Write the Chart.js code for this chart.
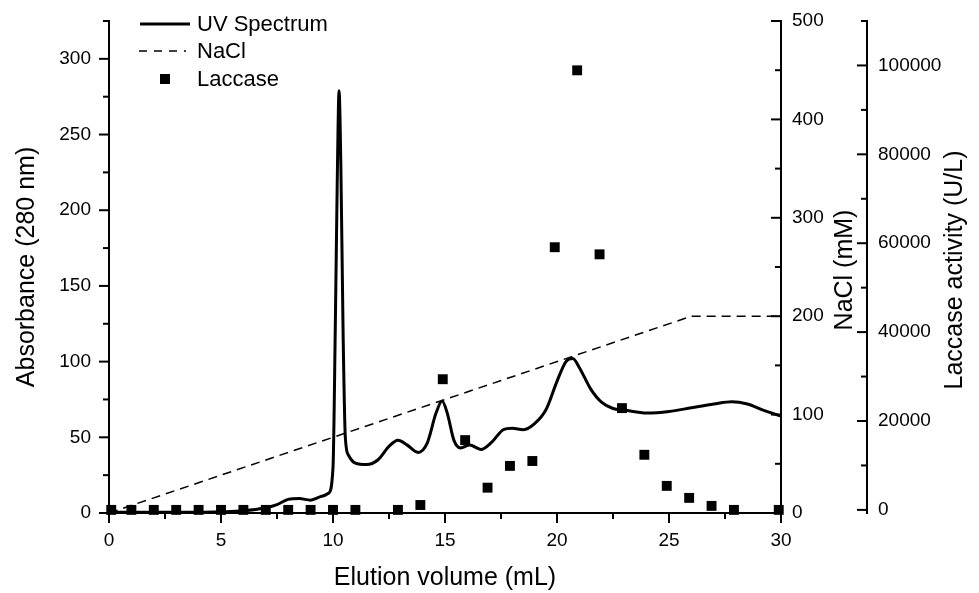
<!DOCTYPE html>
<html lang="en">
<head>
<meta charset="UTF-8">
<title>Elution profile</title>
<script src="https://cdn.jsdelivr.net/npm/chart.js"></script>
<style>
  html, body { margin: 0; padding: 0; background: #fff; }
</style>
</head>
<body>
<canvas id="elution" width="979" height="593"></canvas>
<script>
// UV trace: elution volume (mL) vs absorbance at 280 nm
const uvVolume = [0, 1, 2, 3, 4, 5, 6, 7, 7.5, 8, 8.5, 9, 9.5, 9.8, 10.0, 10.1, 10.2, 10.27, 10.35, 10.45, 10.55, 10.7,
  11, 11.5, 12, 12.5, 12.9, 13.3, 13.8, 14.2, 14.6, 14.87, 15.1, 15.4, 15.7, 16.1, 16.6, 17.1, 17.6, 18.0, 18.5,
  19.0, 19.5, 20.0, 20.4, 20.7, 21.0, 21.5, 22.0, 22.5, 23.0, 24.0, 25.0, 26.0, 27.0, 27.8, 28.5, 29.2, 30];
const uvAbs = [0.5, 0.5, 0.5, 0.5, 0.5, 0.8, 1.5, 3.5, 5.5, 9, 9.5, 8.5, 11, 13, 30, 120, 230, 279, 230, 120, 50, 38,
  33, 32, 35, 44, 48, 45, 40, 46, 66, 74, 66, 48, 43, 45, 42, 47, 55, 56, 55,
  59, 68, 87, 100, 102, 96, 82, 73, 69, 68, 66, 67, 69.5, 72, 73.5, 72, 68, 64];

// NaCl gradient (mM)
const naclVolume = [0, 26, 30];
const naclConc = [0, 200, 200];

// laccase activity of fractions (U/L)
const lacVolume = [0.1, 1, 2, 3, 4, 5, 6, 7, 8, 9, 10, 11, 12.9, 13.9, 14.9, 15.9, 16.9, 17.9, 18.9, 19.9,
  20.9, 21.9, 22.9, 23.9, 24.9, 25.9, 26.9, 27.9, 29.9];
const lacActivity = [0, 0, 0, 0, 0, 0, 0, 0, 0, 0, 0, 0, 0, 1100, 29400, 15700, 5000, 9900, 11000, 59100,
  98900, 57500, 22900, 12400, 5400, 2700, 900, 0, 0];

// axis ticks
const xTicks = [0, 5, 10, 15, 20, 25, 30];
const xMinor = [2.5, 7.5, 12.5, 17.5, 22.5, 27.5];
const absTicks = [0, 50, 100, 150, 200, 250, 300];
const absMinor = [25, 75, 125, 175, 225, 275, 325];
const naclTicks = [0, 100, 200, 300, 400, 500];
const naclMinor = [50, 150, 250, 350, 450];
const lacTicks = [0, 20000, 40000, 60000, 80000, 100000];
const lacMinor = [10000, 30000, 50000, 70000, 90000, 110000];

const FONT = '"Liberation Sans", Arial, Helvetica, sans-serif';

function setTicks(list) {
  return scale => { scale.ticks = list.map(v => ({ value: v })); };
}

// fixed axis box size, no extra room for overhanging labels
function fixSize(w, h) {
  return s => {
    if (w) s.width = w;
    if (h) s.height = h;
    s.paddingTop = s.paddingBottom = s.paddingLeft = s.paddingRight = 0;
  };
}

// ticks, right-hand titles and legend drawn on top of the chart
const axisDecor = {
  id: 'axisDecor',
  afterDraw(chart) {
    const { ctx, chartArea, scales } = chart;
    ctx.save();
    ctx.strokeStyle = '#000';
    ctx.lineWidth = 2;
    const seg = (x1, y1, x2, y2) => {
      ctx.beginPath(); ctx.moveTo(x1, y1); ctx.lineTo(x2, y2); ctx.stroke();
    };
    xTicks.forEach(v => { const p = scales.x.getPixelForValue(v); seg(p, chartArea.bottom, p, chartArea.bottom + 10); });
    xMinor.forEach(v => { const p = scales.x.getPixelForValue(v); seg(p, chartArea.bottom, p, chartArea.bottom + 6); });
    absTicks.forEach(v => { const p = scales.y.getPixelForValue(v); seg(chartArea.left - 10, p, chartArea.left, p); });
    absMinor.forEach(v => { const p = scales.y.getPixelForValue(v); seg(chartArea.left - 6, p, chartArea.left, p); });
    naclTicks.forEach(v => { const p = scales.y1.getPixelForValue(v); seg(scales.y1.left - 10, p, scales.y1.left, p); });
    naclMinor.forEach(v => { const p = scales.y1.getPixelForValue(v); seg(scales.y1.left - 6, p, scales.y1.left, p); });
    lacTicks.forEach(v => { const p = scales.y2.getPixelForValue(v); seg(scales.y2.left - 10, p, scales.y2.left, p); });
    lacMinor.forEach(v => { const p = scales.y2.getPixelForValue(v); seg(scales.y2.left - 6, p, scales.y2.left, p); });

    // right axis titles, reading upwards like the left one
    ctx.fillStyle = '#000';
    ctx.font = '25px ' + FONT;
    ctx.textAlign = 'center';
    ctx.textBaseline = 'middle';
    [['NaCl (mM)', scales.y1.left + 64], ['Laccase activity (U/L)', scales.y2.left + 88]].forEach(([txt, x]) => {
      ctx.save();
      ctx.translate(x, 270);
      ctx.rotate(-Math.PI / 2);
      ctx.fillText(txt, 0, 0);
      ctx.restore();
    });

    // legend
    const ds = chart.data.datasets;
    ctx.font = '22px ' + FONT;
    ctx.textAlign = 'left';
    ctx.lineWidth = ds[0].borderWidth;
    seg(140, 24, 190, 24);
    ctx.fillText(ds[0].label, 197, 25);
    ctx.lineWidth = ds[1].borderWidth;
    ctx.setLineDash([8, 7]);
    seg(139, 51, 186, 51);
    ctx.setLineDash([]);
    ctx.fillText(ds[1].label, 197, 52);
    ctx.fillRect(160, 74, 10, 10);
    ctx.fillText(ds[2].label, 197, 80);
    ctx.restore();
  }
};

const plainNumber = v => String(v);

const ctx = document.getElementById('elution').getContext('2d');
const elutionChart = new Chart(ctx, {
  type: 'line',
  data: {
    datasets: [{
      label: 'UV Spectrum',
      data: uvVolume.map((v, i) => ({ x: v, y: uvAbs[i] })),
      borderColor: '#000',
      borderWidth: 3,
      pointRadius: 0,
      cubicInterpolationMode: 'monotone',
      yAxisID: 'y'
    }, {
      label: 'NaCl',
      data: naclVolume.map((v, i) => ({ x: v, y: naclConc[i] })),
      borderColor: '#000',
      borderWidth: 1.5,
      borderDash: [9, 6],
      pointRadius: 0,
      tension: 0,
      yAxisID: 'y1'
    }, {
      label: 'Laccase',
      data: lacVolume.map((v, i) => ({ x: v, y: lacActivity[i] })),
      showLine: false,
      pointStyle: 'rect',
      pointRadius: 7,
      pointBorderWidth: 0,
      backgroundColor: '#000',
      borderColor: '#000',
      clip: false,
      yAxisID: 'y2'
    }]
  },
  options: {
    responsive: false,
    animation: false,
    layout: { padding: { top: 21, left: 0, right: 0, bottom: 0 } },
    plugins: { legend: { display: false }, tooltip: { enabled: false } },
    scales: {
      x: {
        type: 'linear',
        min: 0, max: 30,
        afterBuildTicks: setTicks(xTicks),
        afterFit: fixSize(0, 80),
        grid: { display: false, drawTicks: false },
        border: { display: true, color: '#000', width: 2 },
        ticks: { color: '#000', padding: 16, callback: plainNumber, font: { size: 19, family: FONT } },
        title: { display: true, text: 'Elution volume (mL)', color: '#000', padding: { top: 0, bottom: 0 }, font: { size: 25, family: FONT } }
      },
      y: {
        position: 'left',
        min: 0, max: 325,
        afterBuildTicks: setTicks(absTicks),
        afterFit: fixSize(109, 0),
        grid: { display: false, drawTicks: false },
        border: { display: true, color: '#000', width: 2 },
        ticks: { color: '#000', padding: 18, callback: plainNumber, font: { size: 19, family: FONT } },
        title: { display: true, text: 'Absorbance (280 nm)', color: '#000', padding: { top: 12, bottom: 0 }, font: { size: 25, family: FONT } }
      },
      y1: {
        position: 'right',
        weight: 0,
        min: 0, max: 500,
        afterBuildTicks: setTicks(naclTicks),
        afterFit: fixSize(86, 0),
        grid: { display: false, drawTicks: false },
        border: { display: true, color: '#000', width: 2 },
        ticks: { color: '#000', padding: 11, callback: plainNumber, font: { size: 19, family: FONT } }
      },
      y2: {
        position: 'right',
        weight: 1,
        min: -700, max: 110000,
        afterBuildTicks: setTicks(lacTicks),
        afterFit: fixSize(112, 0),
        grid: { display: false, drawTicks: false },
        border: { display: true, color: '#000', width: 2 },
        ticks: { color: '#000', padding: 11, callback: plainNumber, font: { size: 19, family: FONT } }
      }
    }
  },
  plugins: [axisDecor]
});
</script>
</body>
</html>
